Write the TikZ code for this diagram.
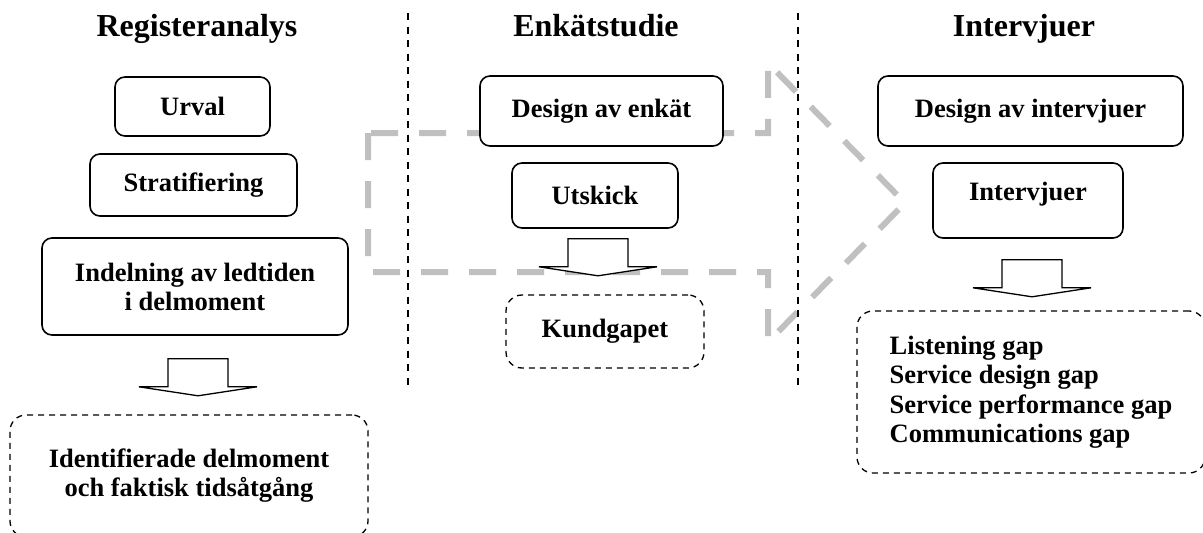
\documentclass[tikz,border=0pt]{standalone}
\usepackage{fontspec}
\setmainfont{Liberation Serif}
\usetikzlibrary{calc}

\definecolor{flowgray}{RGB}{192,192,192}

% hollow down arrow, #1 = middle of the top edge
\newcommand{\blockarrow}[1]{%
  \draw[downarrow] (#1) ++(-30,0) -- ++(60,0) -- ++(0,28) -- ++(29,0)
    -- ++(-59,9) -- ++(-59,-9) -- ++(29,0) -- cycle;}

\begin{document}
\begin{tikzpicture}[x=1pt,y=-1pt,
    procbox/.style={draw, line width=1.6pt, rounded corners=10pt, fill=white,
      align=center, inner sep=0pt, font=\fontsize{26.5}{29}\selectfont\bfseries},
    resbox/.style={draw, line width=1.3pt, dash pattern=on 6pt off 5pt,
      rounded corners=16pt, fill=white, inner sep=0pt,
      font=\fontsize{26.5}{29}\selectfont\bfseries},
    heading/.style={anchor=base, font=\fontsize{32}{36}\selectfont\bfseries},
    column/.style={line width=1.3pt, dash pattern=on 7pt off 6.5pt},
    flow/.style={draw=flowgray, line width=6pt, dash pattern=on 27pt off 21pt},
    downarrow/.style={draw, fill=white, line width=1.3pt}]
    \useasboundingbox (0,0) rectangle (1203,533);
    \clip (0,0) rectangle (1203,533);

    % big grey arrow behind the middle column
    \draw[flow] (368,133) -- (368,272) -- (768,272) -- (768,342)
        -- (905,203) -- (768,63) -- (768,133) -- cycle;

    % column separators
    \draw[column] (408,13) -- (408,390);
    \draw[column] (798,13) -- (798,390);

    % headings
    \node[heading] (reg) at (197,36) {Registeranalys};
    \node[heading] (enk) at (596,36) {Enkätstudie};
    \node[heading] (intv) at (1024,36) {Intervjuer};

    % register analysis
    \node[procbox, minimum width=155pt, minimum height=59pt] (urval) at (192.5,106.5) {Urval};
    \node[procbox, minimum width=207pt, minimum height=62pt] (strat) at (193.5,185) {Stratifiering};
    \node[procbox, minimum width=306pt, minimum height=97pt] (indel) at (195,286.5)
        {Indelning av ledtiden\\i delmoment};
    \node[resbox, align=center, minimum width=358pt, minimum height=122pt] (regres) at (189,476)
        {Identifierade delmoment\\och faktisk tidsåtgång};
    \blockarrow{$(indel.south)+(3,23)$}

    % survey
    \node[procbox, minimum width=243pt, minimum height=70pt] (design) at (601.5,111) {Design av enkät};
    \node[procbox, minimum width=166pt, minimum height=65pt] (utskick) at (595,195.5) {Utskick};
    \node[resbox, minimum width=198pt, minimum height=73pt] (kund) at (605,331.5) {Kundgapet};
    \blockarrow{$(utskick.south)+(3,10)$}

    % interviews
    \node[procbox, minimum width=305pt, minimum height=70pt] (designint) at (1030.5,111) {Design av intervjuer};
    \node[procbox, minimum width=190pt, minimum height=75pt, text depth=19pt] (intervj) at (1028,200.5) {Intervjuer};
    \node[resbox, align=left, minimum width=348pt, minimum height=162pt,
        font=\fontsize{26.5}{29.5}\selectfont\bfseries] (gaps) at (1031,392)
        {Listening gap\\Service design gap\\Service performance gap\\Communications gap};
    \blockarrow{$(intervj.south)+(4,21)$}
\end{tikzpicture}
\end{document}
